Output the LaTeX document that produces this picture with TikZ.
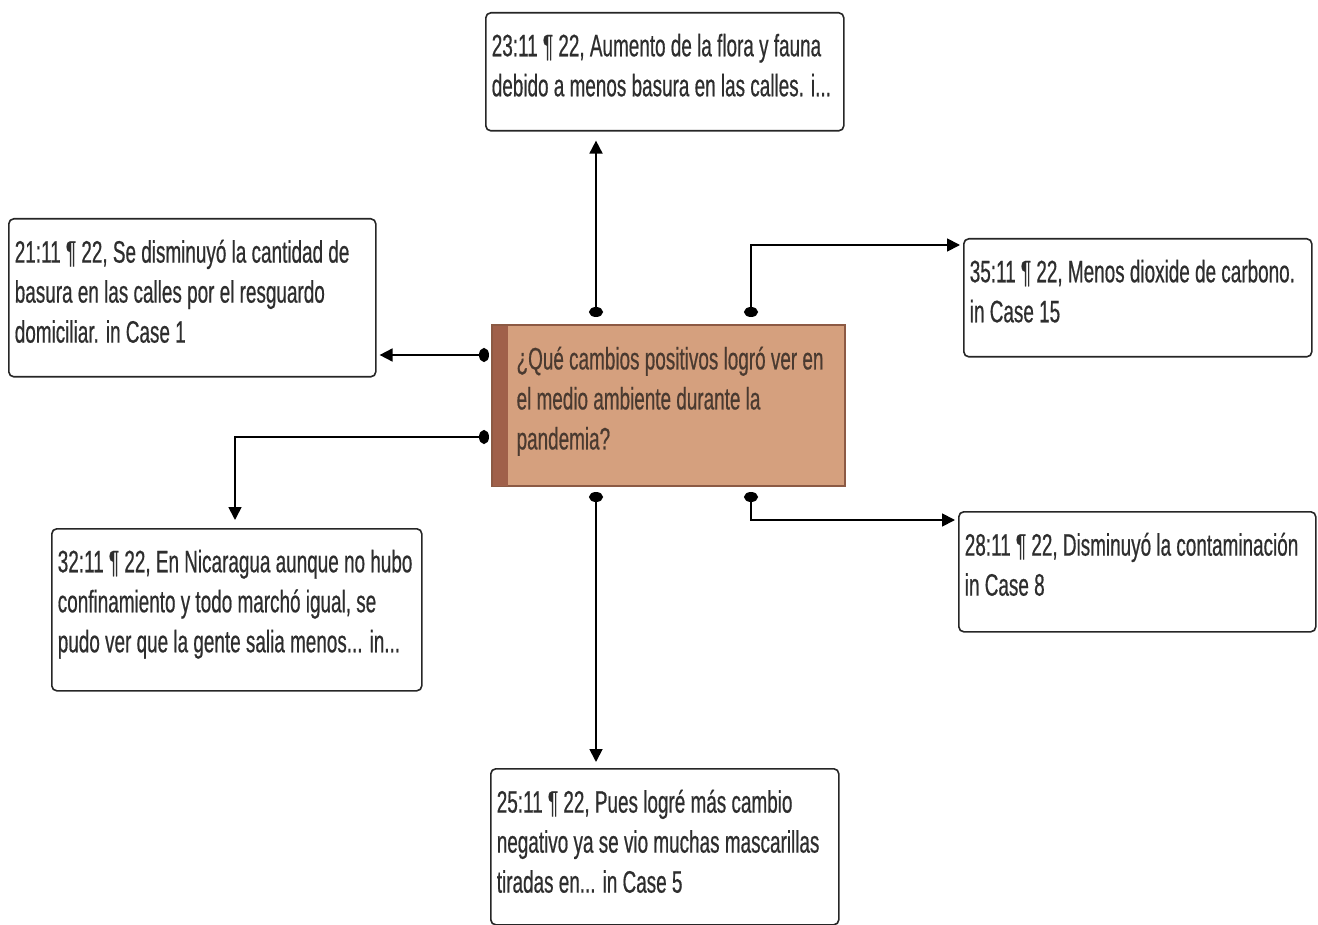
\documentclass[tikz,border=0pt]{standalone}
\usepackage{fontspec}
\setmainfont{Liberation Sans}[FakeStretch=0.61,FakeBold=0.5]
\usetikzlibrary{arrows.meta}
\definecolor{txt}{HTML}{2E2E2E}
\definecolor{ctrfill}{HTML}{D5A07E}
\definecolor{ctrstripe}{HTML}{A0604A}
\definecolor{ctrdraw}{HTML}{8C5A44}
\definecolor{ctrtxt}{HTML}{4A3A30}
\tikzset{
  tbox/.style={draw=black!85, line width=1.6pt, rounded corners=5pt, fill=white, inner sep=0pt, text=txt},
  cbox/.style={draw=ctrdraw, line width=1.2pt, fill=ctrfill, inner sep=0pt, text=ctrtxt},
  conn/.style={line width=1.8pt, black, {Circle[length=10pt,width=14pt]}-{Triangle[length=13pt,width=13pt]}},
}
\newcommand\tbox[7][tbox]{%
  \node[#1, minimum width=#5pt, minimum height=#6pt, anchor=north west] (#2) at (#3,#4)
  {\begin{minipage}[c][\dimexpr#6pt-12pt\relax][t]{\dimexpr#5pt-12pt\relax}\raggedright
   \fontsize{31}{40}\selectfont\vspace*{15pt}#7\end{minipage}};}
\begin{document}
\begin{tikzpicture}[x=1pt,y=-1pt]
\useasboundingbox (0,0) rectangle (1318,925);
\tbox{top}{485}{12}{358}{118}{23:11 ¶ 22, Aumento de la flora y fauna\\debido a menos basura en las calles. i...}
\tbox{lt}{8}{218}{367}{158}{21:11 ¶ 22, Se disminuyó la cantidad de\\basura en las calles por el resguardo\\domiciliar. in Case 1}
\tbox{rt}{963}{238}{348}{118}{35:11 ¶ 22, Menos dioxide de carbono.\\in Case 15}
\tbox{lb}{51}{528}{370}{162}{32:11 ¶ 22, En Nicaragua aunque no hubo\\confinamiento y todo marchó igual, se\\pudo ver que la gente salia menos... in...}
\tbox{rb}{958}{511}{357}{120}{28:11 ¶ 22, Disminuyó la contaminación\\in Case 8}
\tbox{bot}{490}{768}{348}{156}{25:11 ¶ 22, Pues logré más cambio\\negativo ya se vio muchas mascarillas\\tiradas en... in Case 5}
\tbox[cbox]{ctr}{492}{325}{352}{160}{\hspace*{18pt}\parbox[t]{320pt}{¿Qué cambios positivos logró ver en\\el medio ambiente durante la\\pandemia?}}
\fill[ctrstripe] (ctr.north west) rectangle ([xshift=16pt]ctr.south west);
\draw[ctrdraw, line width=1.2pt] (ctr.north west) rectangle (ctr.south east);
% dots
\coordinate (dT) at (596,317);
\coordinate (dTR) at (751,317);
\coordinate (dL1) at (489,355);
\coordinate (dL2) at (489,437);
\coordinate (dB) at (596,492);
\coordinate (dBR) at (751,492);
\draw[conn, shorten >=9pt] (dT) -- (dT |- top.south);
\draw[conn, shorten >=3pt] (dL1) -- (dL1 -| lt.east);
\draw[conn, shorten >=3pt] (dTR) |- ([yshift=-7pt]rt.north west);
\draw[conn, shorten >=8pt] (dL2) -| ([xshift=184pt]lb.north west);
\draw[conn, shorten >=3pt] (dBR) |- ([yshift=-9pt]rb.north west);
\draw[conn, shorten >=6pt] (dB) -- (dB |- bot.north);
\end{tikzpicture}
\end{document}
